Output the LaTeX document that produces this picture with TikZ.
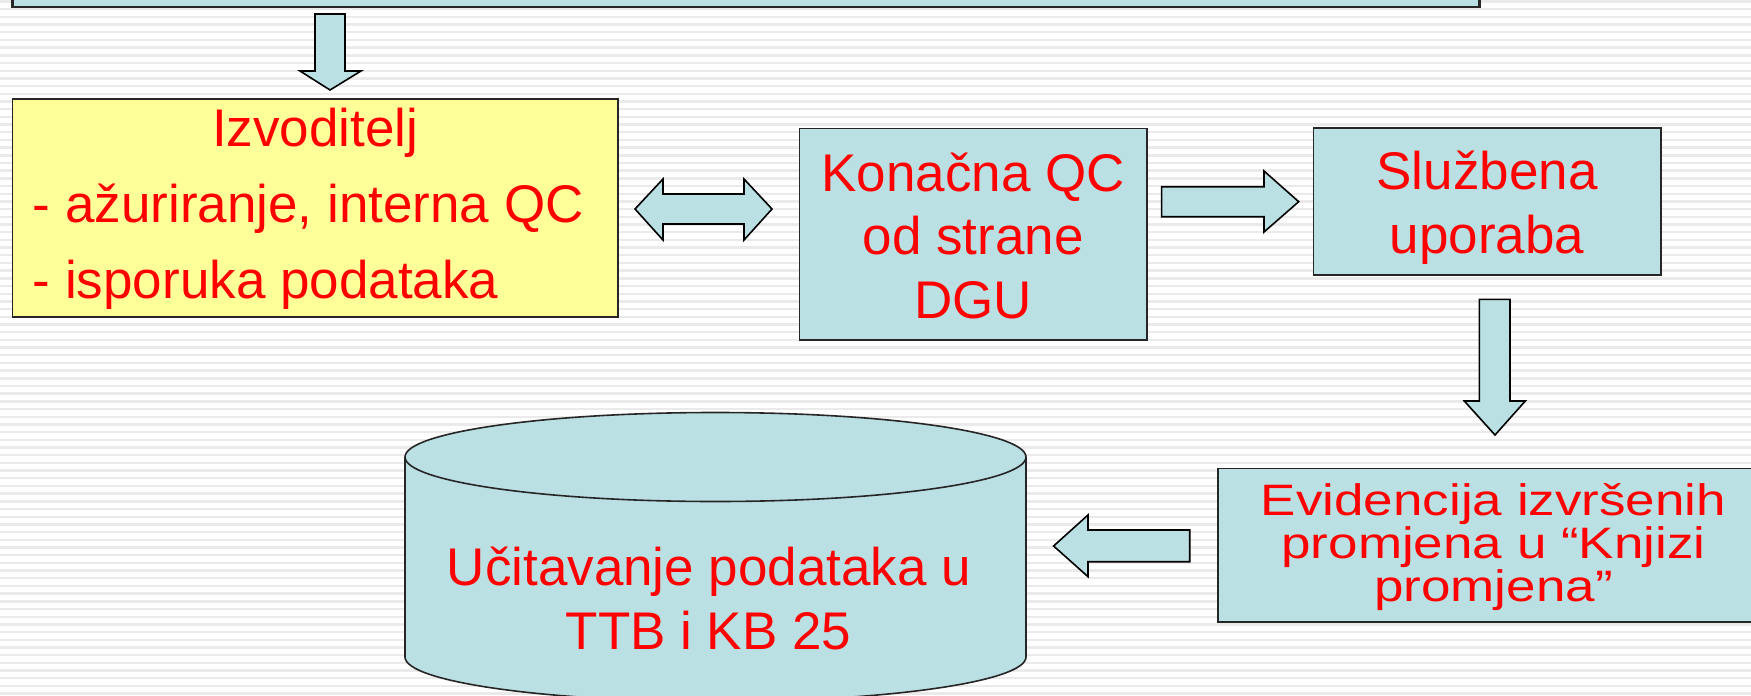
\documentclass[tikz,border=0pt]{standalone}
\usepackage{fontspec}
\setmainfont{Liberation Sans}
\usepackage{graphicx}
\definecolor{boxblue}{RGB}{187,224,227}
\definecolor{boxyellow}{RGB}{255,255,153}
\definecolor{stripegray}{RGB}{234,234,234}
\definecolor{labelred}{RGB}{255,0,0}
\tikzset{
  panel/.style={draw=black!85, line width=0.8pt, fill=boxblue},
  notepanel/.style={panel, fill=boxyellow},
  blockarrow/.style={draw=black, line width=0.8pt, fill=boxblue, line join=miter},
  lbl/.style={font=\fontsize{26.5pt}{32pt}\selectfont, text=labelred, inner sep=0pt, anchor=base},
  lblw/.style={lbl, anchor=base west},
}
\newcommand\squeezed[1]{\scalebox{1}[0.83]{#1}}
\begin{document}
\begin{tikzpicture}[x=0.5pt,y=-0.5pt]
\useasboundingbox (0,0) rectangle (1751,696);
\clip (0,0) rectangle (1751,696);
% striped slide background
\fill[white] (0,0) rectangle (1751,696);
\foreach \k in {0,...,90}
  \fill[stripegray] (0,{1.5+7.69*\k-1.2}) rectangle (1751,{1.5+7.69*\k+1.2});

% box running off the top edge
\draw[panel, line width=1.2pt] (12.5,-20) rectangle (1479.6,7);

% contractor box
\draw[notepanel] (12.5,99) rectangle (618,316.7);
\node[lbl]  (izv)  at (315.3,146) {Izvoditelj};
\node[lblw] (izv2) at (32.5,222) {- ažuriranje, interna QC};
\node[lblw] (izv3) at (32.5,298) {- isporuka podataka};

% final QC box
\draw[panel] (799.5,128.4) rectangle (1147,340);
\node[lbl] (qc1) at (973.3,191)   {Konačna QC};
\node[lbl] (qc2) at (973.3,254.5) {od strane};
\node[lbl] (qc3) at (973.3,318)   {DGU};

% official use box
\draw[panel] (1313.3,127.7) rectangle (1661,275);
\node[lbl] (su1) at (1487,189.3) {Službena};
\node[lbl] (su2) at (1487,253.3) {uporaba};

% change-log box (runs off the right edge)
\draw[panel] (1218,468.3) rectangle (1770,621.7);
\node[lbl] (ev1) at (1493.5,515) {\squeezed{Evidencija izvršenih}};
\node[lbl] (ev2) at (1493.5,558) {\squeezed{promjena u “Knjizi}};
\node[lbl] (ev3) at (1493.5,601) {\squeezed{promjena”}};

% database cylinder
\draw[panel] (405,457) -- (405,657)
  arc[start angle=180, end angle=360, x radius=155.25pt, y radius=22.25pt]
  -- (1026,457)
  arc[start angle=0, end angle=180, x radius=155.25pt, y radius=22.25pt] -- cycle;
\draw[black!85, line width=0.8pt] (405,457)
  arc[start angle=180, end angle=360, x radius=155.25pt, y radius=22.25pt];
\node[lbl] (db1) at (709,585)   {Učitavanje podataka u};
\node[lbl] (db2) at (708.5,649) {TTB i KB 25};

% block arrows
\draw[blockarrow] (315,14) -- (345,14) -- (345,71) -- (361,71) -- (330,90)
  -- (300,71) -- (315,71) -- cycle;
\draw[blockarrow] (635,209) -- (663,179) -- (663,194) -- (744,194) -- (744,179)
  -- (772,209) -- (744,240) -- (744,224) -- (663,224) -- (663,240) -- cycle;
\draw[blockarrow] (1161.6,186.7) -- (1264,186.7) -- (1264,171) -- (1298.7,201.7)
  -- (1264,232) -- (1264,216.7) -- (1161.6,216.7) -- cycle;
\draw[blockarrow] (1479.3,299.3) -- (1510,299.3) -- (1510,401) -- (1525.3,401)
  -- (1495,435) -- (1464.3,401) -- (1479.3,401) -- cycle;
\draw[blockarrow] (1053.6,546) -- (1088,515) -- (1088,530) -- (1189.7,530)
  -- (1189.7,561.7) -- (1088,561.7) -- (1088,576.7) -- cycle;
\end{tikzpicture}
\end{document}
